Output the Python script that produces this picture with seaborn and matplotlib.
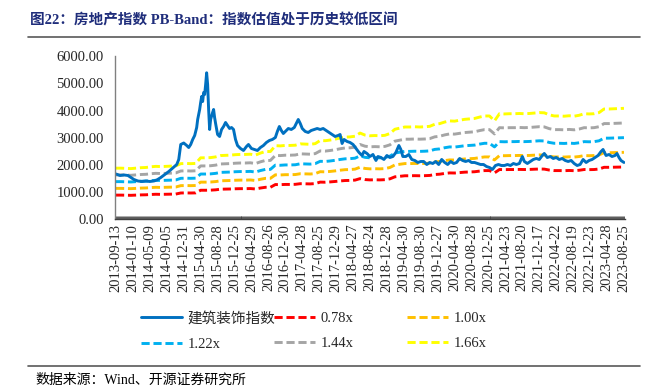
import numpy as np
import pandas as pd
import matplotlib
matplotlib.use('Agg')
import matplotlib.pyplot as plt
from matplotlib.lines import Line2D
import seaborn as sns

# weekly position (0 = 2013-09-13, 510 = 2023-08-25) and index close
idx_weeks = [0, 4, 8, 12, 15, 18, 22, 26, 30, 34, 38, 41, 45, 49, 53, 57, 61, 63, 65, 68,
             71, 73, 75, 77, 79, 81, 82, 84, 85, 86, 87, 88, 89, 90, 91, 92, 93, 94, 95, 97,
             98, 99, 100, 102, 104, 106, 108, 110, 112, 114, 116, 118, 120, 122, 125, 128, 131, 133, 136, 139,
             142, 145, 148, 151, 154, 157, 160, 162, 164, 166, 168, 171, 173, 176, 179, 181, 183, 185, 187, 190,
             193, 196, 199, 202, 205, 208, 211, 214, 217, 220, 223, 225, 227, 229, 232, 235, 238, 241, 244, 247,
             249, 252, 255, 258, 261, 263, 266, 269, 272, 275, 278, 281, 284, 286, 288, 291, 294, 297, 300, 303,
             306, 309, 312, 315, 318, 321, 324, 327, 330, 333, 336, 339, 342, 345, 348, 351, 354, 357, 360, 363,
             366, 369, 372, 375, 378, 381, 384, 387, 390, 393, 396, 399, 402, 405, 408, 410, 413, 416, 419, 422,
             425, 428, 430, 433, 436, 439, 442, 445, 448, 451, 454, 457, 460, 463, 466, 469, 472, 475, 478, 481,
             484, 487, 489, 492, 495, 498, 501, 503, 505, 507, 510]
idx_values = [1660, 1605, 1624, 1605, 1531, 1458, 1402, 1384, 1402, 1384, 1402, 1439, 1531, 1642, 1753, 1882, 2011, 2196, 2749, 2804,
              2712, 2638, 2749, 2934, 3081, 3376, 3672, 4041, 4299, 4520, 4336, 4668, 4594, 4963, 5395, 4963, 4041, 3303, 3672, 3930,
              4041, 3745, 3524, 3118, 3044, 3303, 3413, 3561, 3450, 3339, 3376, 3303, 2934, 2712, 2601, 2528, 2675, 2749, 2601, 2565,
              2528, 2638, 2712, 2823, 2897, 2934, 3007, 3229, 3413, 3266, 3155, 3266, 3339, 3303, 3376, 3524, 3672, 3524, 3339, 3229,
              3192, 3266, 3303, 3339, 3303, 3339, 3266, 3192, 3118, 3044, 3081, 3118, 2786, 2934, 2860, 2823, 2749, 2601, 2454, 2343,
              2491, 2417, 2306, 2380, 2159, 2306, 2269, 2196, 2343, 2269, 2306, 2454, 2712, 2565, 2306, 2306, 2380, 2196, 2159, 2085,
              2122, 2122, 2011, 2085, 2048, 2122, 2011, 2196, 2085, 2011, 2122, 2048, 2085, 2233, 2159, 2122, 2159, 2085, 2085, 2048,
              2011, 2011, 1937, 1900, 1827, 1974, 2011, 1974, 1974, 2011, 1974, 2048, 2011, 2048, 2306, 2122, 2048, 2122, 2196, 2233,
              2196, 2343, 2417, 2269, 2306, 2233, 2269, 2196, 2233, 2159, 2122, 2159, 2048, 1974, 2011, 2196, 2085, 2159, 2196, 2269,
              2343, 2491, 2565, 2343, 2380, 2306, 2343, 2417, 2269, 2159, 2085]

# book value per share proxy (1.00x band), every 5 weeks
bvps_weeks = list(range(0, 511, 5))
bvps = [1130, 1130, 1125, 1120, 1130, 1140, 1145, 1160, 1170, 1165,
        1170, 1175, 1180, 1230, 1235, 1230, 1235, 1360, 1360, 1365,
        1380, 1410, 1415, 1420, 1430, 1435, 1435, 1440, 1420, 1465,
        1500, 1500, 1630, 1625, 1635, 1635, 1640, 1670, 1665, 1660,
        1675, 1745, 1740, 1755, 1775, 1800, 1820, 1825, 1840, 1910,
        1865, 1850, 1855, 1850, 1860, 1900, 1995, 2020, 2045, 2045,
        2050, 2045, 2050, 2060, 2105, 2120, 2155, 2180, 2175, 2195,
        2215, 2225, 2235, 2265, 2290, 2290, 2180, 2340, 2335, 2340,
        2340, 2345, 2340, 2345, 2355, 2365, 2360, 2315, 2290, 2290,
        2285, 2295, 2285, 2305, 2340, 2335, 2340, 2365, 2445, 2445,
        2450, 2455, 2460]

multiples = [0.78, 1.00, 1.22, 1.44, 1.66]
band_labels = ['0.78x', '1.00x', '1.22x', '1.44x', '1.66x']
band_colors = ['#FF0000', '#FFC000', '#00B0F0', '#A5A5A5', '#FFFF00']
index_label = '建筑装饰指数'

tick_labels = ['2013-09-13', '2014-01-10', '2014-05-09', '2014-09-05', '2014-12-31', '2015-04-30',
               '2015-08-28', '2015-12-25', '2016-04-29', '2016-08-26', '2016-12-30', '2017-04-28',
               '2017-08-25', '2017-12-29', '2018-04-27', '2018-08-24', '2018-12-28', '2019-04-30',
               '2019-08-30', '2019-12-27', '2020-04-30', '2020-08-28', '2020-12-25', '2021-04-23',
               '2021-08-20', '2021-12-17', '2022-04-22', '2022-08-19', '2022-12-23', '2023-04-28',
               '2023-08-25']

sns.set_theme(style='white')
plt.rcParams['font.family'] = ['Liberation Serif', 'Noto Sans CJK SC', 'DejaVu Sans']

fig = plt.figure(figsize=(6.64, 3.91), dpi=100)
ax = fig.add_axes([0.1732, 0.4399, 0.768, 0.4159])

# PB bands
bands = pd.DataFrame({'week': bvps_weeks, 'bvps': bvps})
dash = (0, (2.8, 1.3))
for m, lab, col in zip(multiples, band_labels, band_colors):
    sns.lineplot(x=bands['week'], y=bands['bvps'] * m, color=col, lw=2.1,
                 linestyle=dash, errorbar=None, ax=ax)

# index line on top
sns.lineplot(x=idx_weeks, y=idx_values, color='#0070C0', lw=2.1, errorbar=None, ax=ax)

ax.set_xlim(-1, 511)
ax.set_ylim(0, 6000)
ax.set_xlabel('')
ax.set_ylabel('')
ax.set_yticks(range(0, 6001, 1000))
ax.set_yticklabels([f'{v:.2f}' for v in range(0, 6001, 1000)], fontsize=10.5)
ax.set_xticks(range(0, 511, 17))
ax.set_xticklabels(tick_labels, rotation=90, fontsize=10.5)
ax.set_xticks(range(0, 511), minor=True)
ax.tick_params(axis='x', which='both', direction='in', length=2.5, width=0.6,
               color='#404040', pad=3.5, bottom=True)
ax.tick_params(axis='y', length=0, pad=8)
for s in ['top', 'right']:
    ax.spines[s].set_visible(False)
ax.spines['left'].set_color('#808080')
ax.spines['left'].set_linewidth(1.0)
ax.spines['bottom'].set_color('#404040')
ax.spines['bottom'].set_linewidth(1.0)

# legend, three columns placed by hand
def handle(col, solid=False):
    if solid:
        return Line2D([], [], color=col, lw=2.1)
    return Line2D([], [], color=col, lw=2.1, linestyle=dash)

cols = [
    ([handle('#0070C0', True), handle(band_colors[2])], [index_label, band_labels[2]]),
    ([handle(band_colors[0]), handle(band_colors[3])], [band_labels[0], band_labels[3]]),
    ([handle(band_colors[1]), handle(band_colors[4])], [band_labels[1], band_labels[4]]),
]
for (hs, ls), x in zip(cols, [141 / 664, 274 / 664, 407 / 664]):
    fig.legend(hs, ls, loc='center left', bbox_to_anchor=(x, 1 - 331 / 391),
               frameon=False, fontsize=10.5, handlelength=2.8, handletextpad=0.4,
               labelspacing=0.85, borderpad=0, borderaxespad=0)

fig.text(30 / 664, 1 - 20 / 391, '图22：房地产指数 PB-Band：指数估值处于历史较低区间',
         fontsize=10.5, fontweight='bold', color='#1F2D7B', va='center', ha='left')
fig.add_artist(Line2D([28 / 664, 640 / 664], [1 - 37 / 391] * 2, color='#595959', lw=1.2))
fig.add_artist(Line2D([28 / 664, 640 / 664], [1 - 366 / 391] * 2, color='#595959', lw=1.2))
fig.text(35 / 664, 1 - 380 / 391, '数据来源：Wind、开源证券研究所',
         fontsize=10, color='#000000', va='center', ha='left')

fig.savefig('out.png', dpi=100)
